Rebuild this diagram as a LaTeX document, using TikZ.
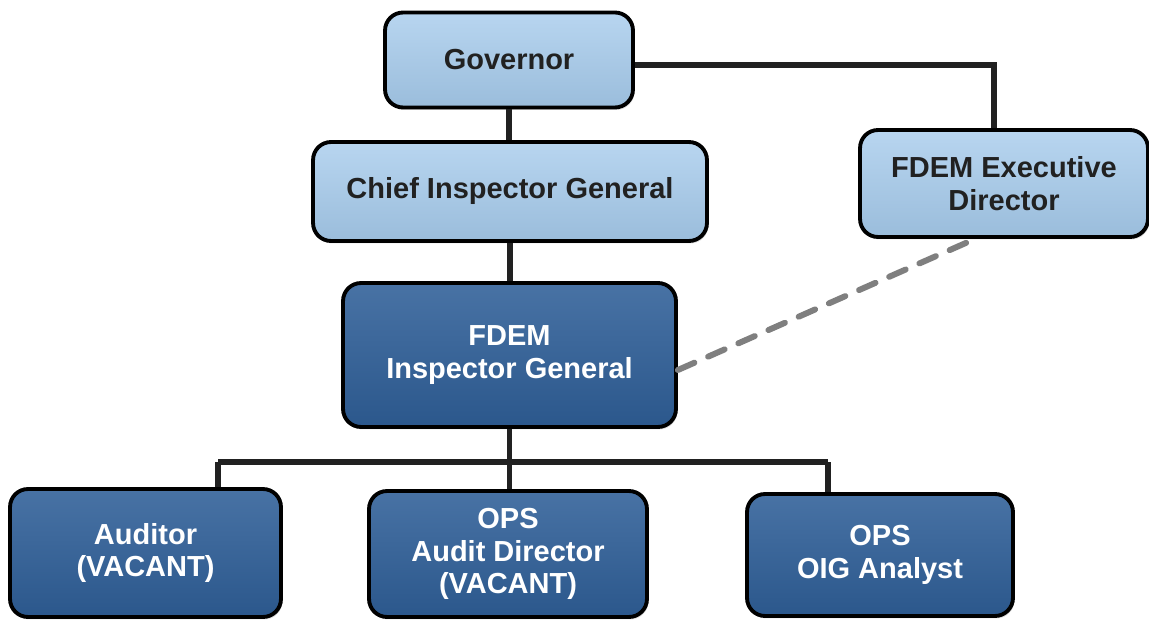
\documentclass[tikz,border=0pt]{standalone}
\usepackage{fontspec}
\setmainfont{Liberation Sans}
\usetikzlibrary{shadows}
\definecolor{lightbox}{HTML}{A6CBEC}
\definecolor{darkbox}{HTML}{2F5F98}
\definecolor{linkgray}{HTML}{7F7F7F}

\begin{document}
\begin{tikzpicture}[x=0.02cm, y=-0.02cm,
                    box/.style={rectangle,rounded corners=0.36cm,draw=black,line width=2.2pt,align=center,
                                inner sep=0pt,font=\fontsize{16.5}{18.7}\selectfont\bfseries,
                                drop shadow={shadow xshift=0.03cm,shadow yshift=-0.05cm,opacity=0.25}},
                    light box/.style={box,top color=lightbox!80!white,middle color=lightbox,bottom color=lightbox!93!black,text=black!87},
                    dark box/.style={box,top color=darkbox!88!white,middle color=darkbox,bottom color=darkbox!92!black,text=white},
                    link/.style={line width=3.2pt,draw=black!87},
                    dash link/.style={line width=3.4pt,draw=linkgray,dash pattern=on 0.36cm off 0.3cm,line cap=round}]

   \useasboundingbox (0,0) rectangle (1149,621);

   % top levels
   \node[light box, minimum width=4.96cm, minimum height=1.9cm] (gov) at (509,60) {Governor};
   \node[light box, minimum width=7.88cm, minimum height=1.98cm] (cig) at (510,191.5) {Chief Inspector General};
   \node[light box, minimum width=5.76cm, minimum height=2.14cm] (exec) at (1004,183.5) {FDEM Executive\\Director};
   \node[dark box, minimum width=6.66cm, minimum height=2.88cm] (fig) at (509.5,355) {FDEM\\Inspector General};

   % staff
   \node[dark box, minimum width=5.42cm, minimum height=2.56cm] (aud) at (145.5,553) {Auditor\\(VACANT)};
   \node[dark box, minimum width=5.56cm, minimum height=2.52cm] (oad) at (508,554) {OPS\\Audit Director\\(VACANT)};
   \node[dark box, minimum width=5.32cm, minimum height=2.44cm] (oig) at (880,555) {OPS\\OIG Analyst};

   \coordinate (busl) at (218,462);
   \coordinate (busr) at (828,462);

   \draw[link] (gov.south) -- (gov.south |- cig.north);
   \draw[link] ([yshift=-0.1cm]gov.east) -| ([xshift=-0.2cm]exec.north);
   \draw[link] (cig.south) -- (cig.south |- fig.north);
   \draw[link] (busl) -- (busr);
   \draw[link] (busl) -- (busl |- aud.north);
   \draw[link] (fig.south) -- (fig.south |- oad.north);
   \draw[link] (busr) -- (busr |- oig.north);
   \draw[dash link] ([yshift=-0.3cm]fig.east) -- ([xshift=-0.58cm]exec.south);

\end{tikzpicture}
\end{document}
